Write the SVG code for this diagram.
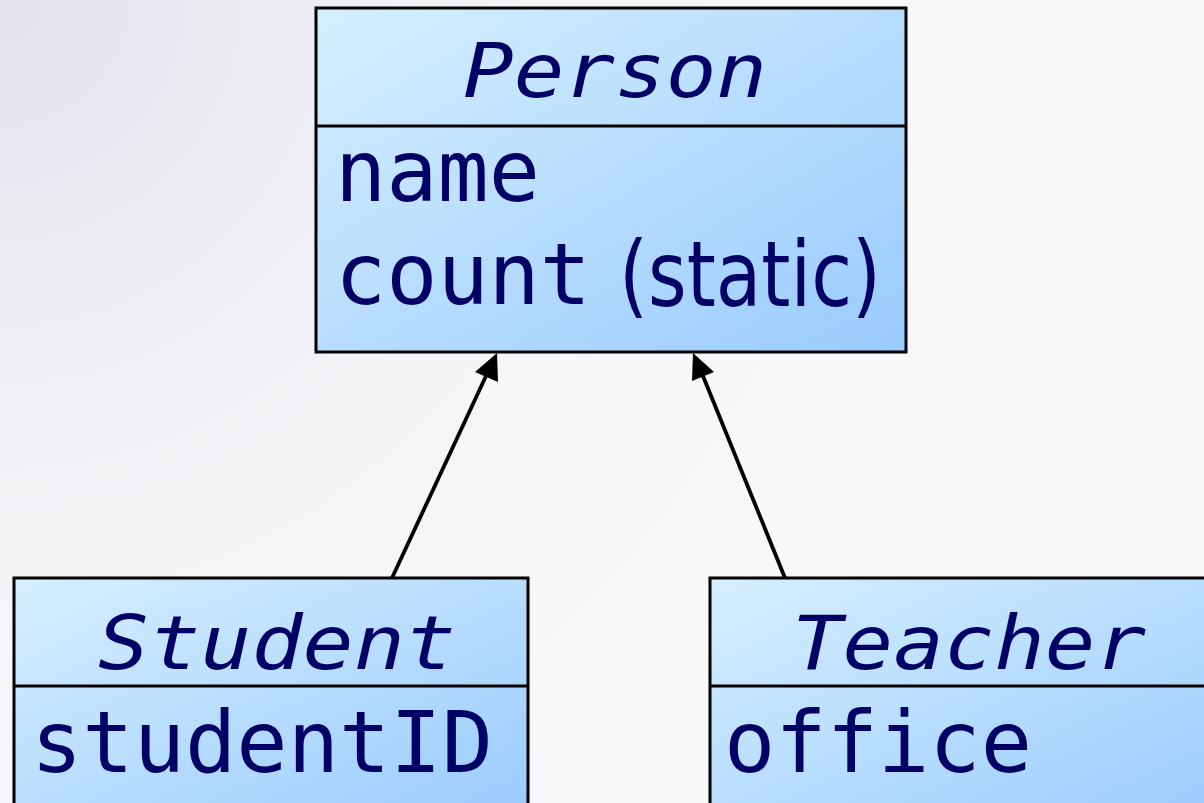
<svg xmlns="http://www.w3.org/2000/svg" width="1204" height="803" viewBox="0 0 1204 803">
  <defs>
    <radialGradient id="bg" cx="0" cy="0" r="900" gradientUnits="userSpaceOnUse">
      <stop offset="0" stop-color="#e2e2ec"/>
      <stop offset="0.6" stop-color="#f5f5f8"/>
      <stop offset="1" stop-color="#f8f8fa"/>
    </radialGradient>
    <linearGradient id="boxFill" x1="0" y1="0" x2="1" y2="1">
      <stop offset="0" stop-color="#d6efff"/>
      <stop offset="1" stop-color="#99cbfd"/>
    </linearGradient>
    <style>
      .box { fill: url(#boxFill); stroke: #000; stroke-width: 3; }
      .div { stroke: #000; stroke-width: 3; }
      .title { font-family: "DejaVu Sans Mono", "Liberation Mono", monospace; font-style: italic; font-size: 74px; fill: #000066; }
      .attr { font-family: "DejaVu Sans Mono", "Liberation Mono", monospace; font-size: 85px; fill: #000066; }
      .note { font-family: "DejaVu Sans Condensed", "DejaVu Sans", sans-serif; font-stretch: condensed; font-size: 91px; fill: #000066; }
      .edge { stroke: #000; stroke-width: 3.8; fill: none; }
      .head { fill: #000; }
    </style>
  </defs>

  <rect x="0" y="0" width="1204" height="803" fill="url(#bg)"/>

  <!-- generalization arrows -->
  <g id="connectors">
    <line class="edge" x1="392" y1="578" x2="486" y2="376"/>
    <path class="head" d="M497,353 L498,382 L475,372 z"/>
    <line class="edge" x1="785" y1="578" x2="703" y2="376"/>
    <path class="head" d="M693,353 L714,372 L692,381 z"/>
  </g>

  <g id="person">
    <rect class="box" x="316" y="8" width="590" height="344"/>
    <line class="div" x1="316" y1="126" x2="906" y2="126"/>
    <text class="title" x="615" y="97" text-anchor="middle" textLength="304" lengthAdjust="spacingAndGlyphs">Person</text>
    <text class="attr" x="335" y="201" textLength="205" lengthAdjust="spacingAndGlyphs">name</text>
    <text class="attr" x="335" y="304" textLength="256" lengthAdjust="spacingAndGlyphs">count</text>
    <text class="note" x="619" y="306" textLength="262" lengthAdjust="spacingAndGlyphs">(static)</text>
  </g>

  <g id="student">
    <rect class="box" x="14" y="578" width="514" height="240"/>
    <line class="div" x1="14" y1="686" x2="528" y2="686"/>
    <text class="title" x="277" y="669" text-anchor="middle" textLength="358" lengthAdjust="spacingAndGlyphs">Student</text>
    <text class="attr" x="31" y="772" textLength="462" lengthAdjust="spacingAndGlyphs">studentID</text>
  </g>

  <g id="teacher">
    <rect class="box" x="710" y="578" width="520" height="240"/>
    <line class="div" x1="710" y1="686" x2="1230" y2="686"/>
    <text class="title" x="969" y="669" text-anchor="middle" textLength="354" lengthAdjust="spacingAndGlyphs">Teacher</text>
    <text class="attr" x="724" y="772" textLength="308" lengthAdjust="spacingAndGlyphs">office</text>
  </g>
</svg>
